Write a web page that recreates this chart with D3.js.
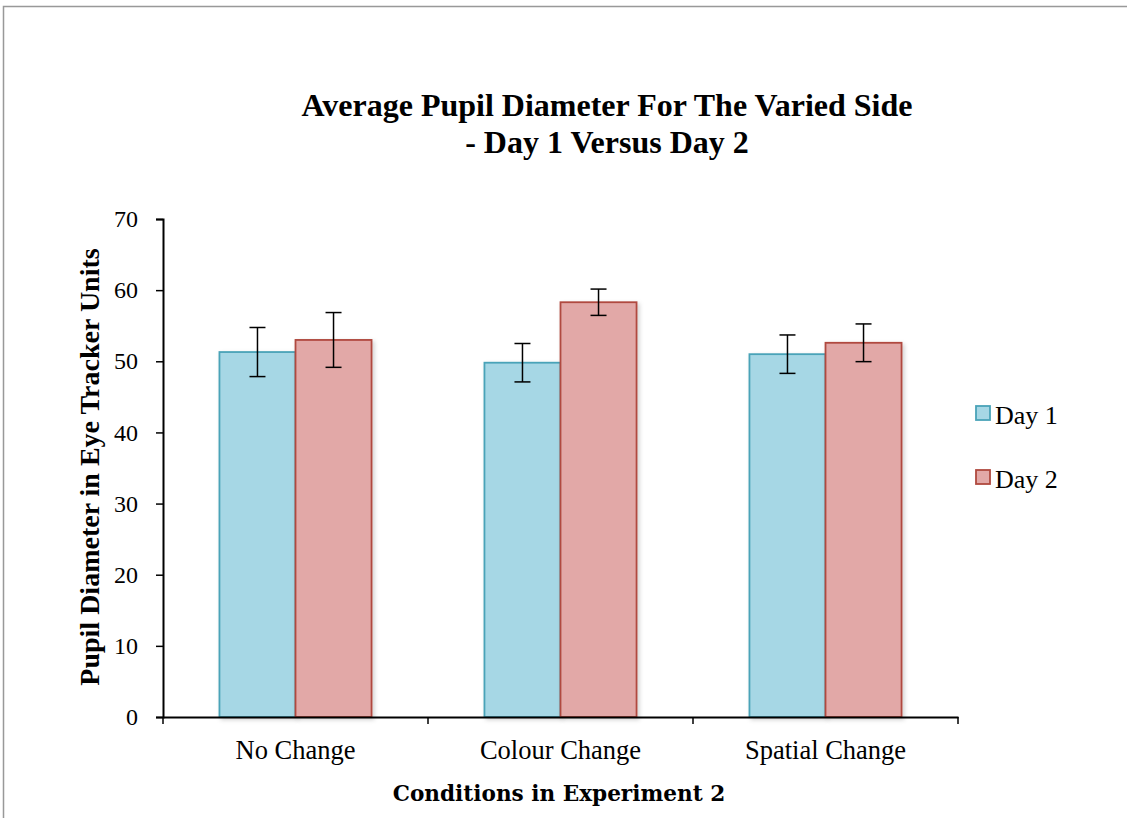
<meta charset="utf-8" />
<script src="https://d3js.org/d3.v7.min.js"></script>
<style>
  body { margin: 0; background: #fff; }
</style>
<div id="chart"></div>
<script>
  const categories = ['No Change', 'Colour Change', 'Spatial Change'];
  const series = ['Day 1', 'Day 2'];
  const day1 = [51.3, 49.8, 51.0];
  const day2 = [53.0, 58.3, 52.6];
  const err1 = [3.45, 2.7, 2.7];
  const err2 = [3.85, 1.85, 2.65];
  const yTicks = [0, 10, 20, 30, 40, 50, 60, 70];

  const W = 1127, H = 818;
  const margin = { top: 219, left: 163, right: 169, bottom: 101 };
  const width = W - margin.left - margin.right,
    height = H - margin.top - margin.bottom;
  const serif = "'Liberation Serif', 'Times New Roman', serif";

  const svg = d3.select('#chart').append('svg')
    .attr('width', W).attr('height', H)
    .style('font-family', serif);

  const defs = svg.append('defs');
  const f = defs.append('filter').attr('id', 'shadow')
    .attr('x', '-10%').attr('y', '-10%').attr('width', '130%').attr('height', '130%');
  f.append('feDropShadow').attr('dx', 2).attr('dy', 2).attr('stdDeviation', 2)
    .attr('flood-color', '#000').attr('flood-opacity', 0.18);

  // outer frame
  svg.append('rect').attr('x', 3.5).attr('y', 6.5)
    .attr('width', W + 10).attr('height', H + 10)
    .attr('fill', 'none').attr('stroke', '#999').attr('stroke-width', 1.5);

  const g = svg.append('g').attr('transform', `translate(${margin.left},${margin.top})`);

  const x0 = d3.scaleBand().domain(categories).range([0, width])
    .paddingInner(0.426).paddingOuter(0.213);
  const x1 = d3.scaleBand().domain(series).range([0, x0.bandwidth()]);
  const y = d3.scaleLinear().domain([0, 70]).range([height, 0]);

  const colors = { 'Day 1': '#a6d7e5', 'Day 2': '#e2a8a7' };
  const strokes = { 'Day 1': '#4aa3b8', 'Day 2': '#b0493f' };

  const rows = categories.map((c, i) => ({
    cat: c,
    vals: [
      { s: 'Day 1', v: day1[i], e: err1[i] },
      { s: 'Day 2', v: day2[i], e: err2[i] },
    ],
  }));

  const grp = g.selectAll('.grp').data(rows).join('g')
    .attr('transform', (d) => `translate(${x0(d.cat)},0)`);

  grp.selectAll('rect').data((d) => d.vals).join('rect')
    .attr('x', (d) => x1(d.s))
    .attr('y', (d) => y(d.v))
    .attr('width', x1.bandwidth())
    .attr('height', (d) => height - y(d.v))
    .attr('fill', (d) => colors[d.s])
    .attr('stroke', (d) => strokes[d.s])
    .attr('stroke-width', 1.8)
    .attr('filter', 'url(#shadow)');

  // error bars
  const eb = grp.selectAll('.eb').data((d) => d.vals).join('g')
    .attr('transform', (d) => `translate(${x1(d.s) + x1.bandwidth() / 2},0)`)
    .attr('stroke', '#000').attr('stroke-width', 1.5);
  eb.append('line').attr('y1', (d) => y(d.v + d.e)).attr('y2', (d) => y(d.v - d.e));
  eb.append('line').attr('x1', -8).attr('x2', 8)
    .attr('y1', (d) => y(d.v + d.e)).attr('y2', (d) => y(d.v + d.e));
  eb.append('line').attr('x1', -8).attr('x2', 8)
    .attr('y1', (d) => y(d.v - d.e)).attr('y2', (d) => y(d.v - d.e));

  // y axis
  const yAxis = g.append('g')
    .call(d3.axisLeft(y).tickValues(yTicks).tickSize(7).tickPadding(18));
  yAxis.select('.domain').attr('stroke', '#000').attr('stroke-width', 2);
  yAxis.selectAll('.tick line').attr('stroke-width', 1.5);
  yAxis.selectAll('.tick text').attr('fill', '#000')
    .style('font-size', '24px').style('font-family', serif);

  // x axis: labels at centres, ticks at boundaries
  const xAxis = g.append('g').attr('transform', `translate(0,${height})`)
    .call(d3.axisBottom(x0).tickSize(0).tickPadding(23).tickSizeOuter(0));
  xAxis.select('.domain').attr('stroke', '#000').attr('stroke-width', 2);
  xAxis.selectAll('.tick text').attr('fill', '#000')
    .style('font-size', '26.5px').style('font-family', serif);
  const bounds = [0].concat(categories.map((c) => x0(c) - x0.step() * x0.paddingInner() / 2 + x0.step()));
  xAxis.selectAll('.bnd').data(bounds).join('line')
    .attr('x1', (d) => d).attr('x2', (d) => d)
    .attr('y1', 0).attr('y2', 7)
    .attr('stroke', '#000').attr('stroke-width', 1.5);

  // titles
  svg.append('text').attr('x', 607).attr('y', 116).attr('text-anchor', 'middle')
    .style('font-size', '32px').attr('font-weight', 'bold')
    .text('Average Pupil Diameter For The Varied Side');
  svg.append('text').attr('x', 607).attr('y', 153).attr('text-anchor', 'middle')
    .style('font-size', '32px').attr('font-weight', 'bold')
    .text('- Day 1 Versus Day 2');

  svg.append('text')
    .attr('transform', `translate(99,${margin.top + height / 2 - 1}) rotate(-90)`)
    .attr('text-anchor', 'middle').style('font-size', '28px').attr('font-weight', 'bold')
    .text('Pupil Diameter in Eye Tracker Units');

  svg.append('text').attr('x', 559).attr('y', 801).attr('text-anchor', 'middle')
    .style('font-size', '21.6px').attr('font-weight', 'bold')
    .style('font-family', "'DejaVu Serif', serif")
    .text('Conditions in Experiment 2');

  // legend
  const leg = svg.append('g').selectAll('g').data(series).join('g')
    .attr('transform', (d, i) => `translate(976,${406 + i * 64})`);
  leg.append('rect').attr('width', 14).attr('height', 14)
    .attr('fill', (d) => colors[d]).attr('stroke', (d) => strokes[d]).attr('stroke-width', 1.8);
  leg.append('text').attr('x', 19).attr('y', 18).style('font-size', '26px').text((d) => d);
</script>
